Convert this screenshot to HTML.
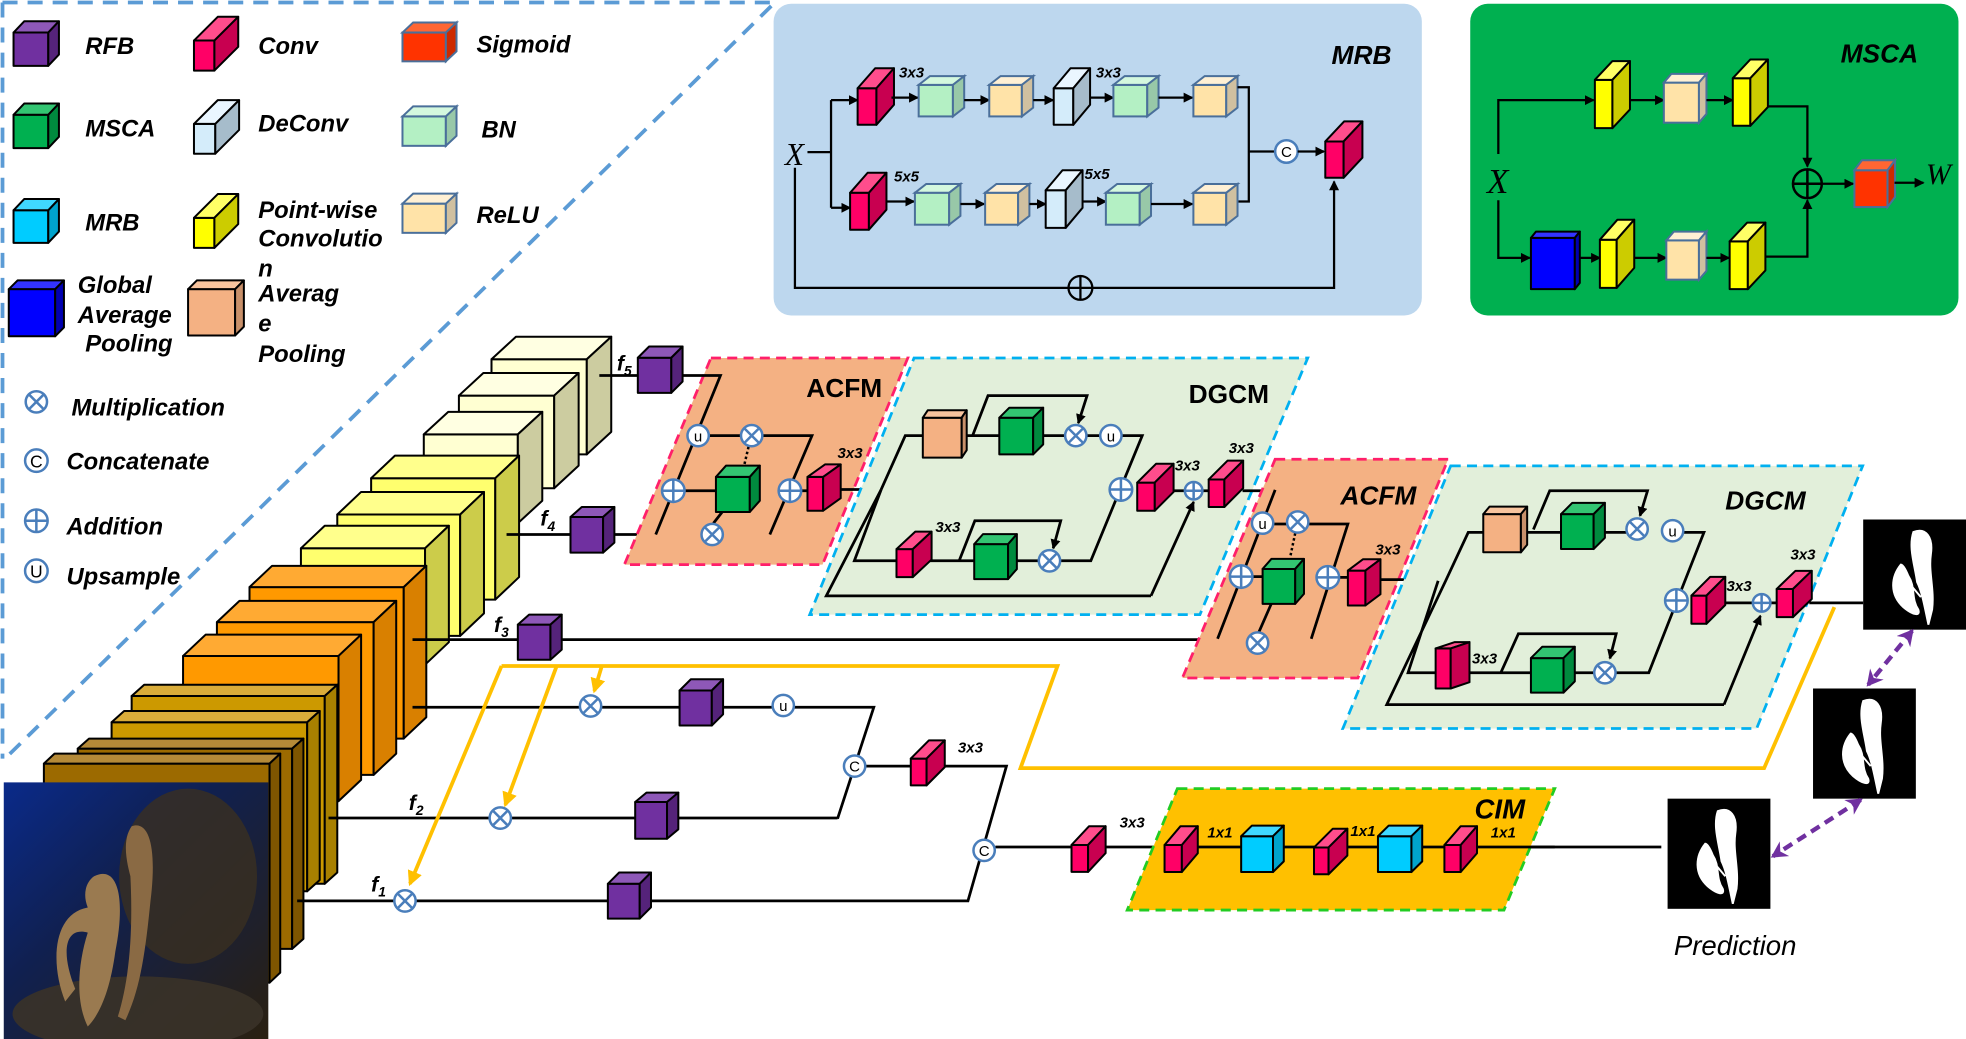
<!DOCTYPE html>
<html><head><meta charset="utf-8"><style>
html,body{margin:0;padding:0;background:#fff}
svg{display:block}
text{font-family:"Liberation Sans",sans-serif;font-weight:bold;font-style:italic;fill:#000}
.k rect,.k path{stroke:#000;stroke-width:1.6;stroke-linejoin:round}
.kb rect,.kb path{stroke:#4a6f9a;stroke-width:1.6}
.cv .f{fill:#ff0066}.cv .t{fill:#ff4d8c}.cv .s{fill:#c80050}
.rf .f{fill:#7030a0}.rf .t{fill:#8e58b8}.rf .s{fill:#55237a}
.gr .f{fill:#00b050}.gr .t{fill:#33c572}.gr .s{fill:#008a3e}
.cy .f{fill:#00ccff}.cy .t{fill:#40d8ff}.cy .s{fill:#00a3cc}
.bn .f{fill:#b4f0c4}.bn .t{fill:#d4f8de}.bn .s{fill:#98c8a8}
.rl .f{fill:#ffe3a8}.rl .t{fill:#fff0d4}.rl .s{fill:#d0c0a0}
.dc .f{fill:#d4ecfa}.dc .t{fill:#eaf6ff}.dc .s{fill:#a6bccb}
.yl .f{fill:#ffff00}.yl .t{fill:#ffff66}.yl .s{fill:#cccc00}
.bl .f{fill:#0000ff}.bl .t{fill:#3333ff}.bl .s{fill:#0000b0}
.sg .f{fill:#ff3300}.sg .t{fill:#ff6633}.sg .s{fill:#cc2a00}
.ap .f{fill:#f4b183}.ap .t{fill:#f8c49e}.ap .s{fill:#c8906a}
.y1 .f{fill:#ffffd2}.y1 .t{fill:#ffffe2}.y1 .s{fill:#cccca0}
.y2 .f{fill:#ffff6e}.y2 .t{fill:#ffff8c}.y2 .s{fill:#cccc4a}
.o1 .f{fill:#ff9900}.o1 .t{fill:#ffaa33}.o1 .s{fill:#d98000}
.b1 .f{fill:#cc9900}.b1 .t{fill:#d9ac3a}.b1 .s{fill:#a88000}
.b2 .f{fill:#9c6a00}.b2 .t{fill:#b58a38}.b2 .s{fill:#7e5500}
.ln{stroke:#000;stroke-width:2.2;fill:none}
.lt{stroke:#000;stroke-width:1.8;fill:none}
.or{stroke:#ffc000;stroke-width:3;fill:none}
.cir{fill:#fff;stroke:#4a7ebb;stroke-width:2}
.cl{stroke:#4a7ebb;stroke-width:2}
.lab{font-size:19px}
.sm{font-size:12px}
</style></head><body>
<svg width="1966" height="1039" viewBox="0 0 1568 830" preserveAspectRatio="none" xmlns="http://www.w3.org/2000/svg">
<defs>
<marker id="a" markerWidth="8" markerHeight="8" refX="7" refY="4" orient="auto" markerUnits="userSpaceOnUse"><path d="M0,0L8,4L0,8z" fill="#000"/></marker>
<marker id="ao" markerWidth="12" markerHeight="12" refX="10" refY="6" orient="auto" markerUnits="userSpaceOnUse"><path d="M0,0L12,6L0,12z" fill="#ffc000"/></marker>
<marker id="ap" markerWidth="14" markerHeight="14" refX="11" refY="7" orient="auto-start-reverse" markerUnits="userSpaceOnUse"><path d="M0,0L13,7L0,14L4,7z" fill="#7030a0"/></marker>
<g id="mul"><circle r="8.5" class="cir"/><path d="M-6,-6L6,6M6,-6L-6,6" class="cl"/></g>
<g id="add"><circle r="9" class="cir" fill="#f4f8ff"/><path d="M-9,0H9M0,-9V9" class="cl"/></g>
<g id="adds"><circle r="7" class="cir"/><path d="M-7,0H7M0,-7V7" class="cl"/></g>
<g id="ring"><circle r="8.5" class="cir"/></g>
<g id="sh"><rect width="82" height="88" fill="#000"/><path d="M40,10 C50,6 56,14 54,28 C52,42 57,56 55,72 L52,84 C49,70 47,58 43,50 C41,36 36,22 40,10Z M30,36 C22,46 21,60 32,70 C39,76 46,78 44,72 C38,63 42,54 36,45 C34,40 32,36 30,36Z M36,50 L46,62" fill="#fff" stroke="#fff" stroke-width="1.5"/></g>
<linearGradient id="sea" x1="0" y1="0" x2="1" y2="1"><stop offset="0" stop-color="#0a2a8a"/><stop offset="0.4" stop-color="#102050"/><stop offset="1" stop-color="#2a2010"/></linearGradient>
</defs>

<!-- legend dashed border -->
<path d="M2,2H618L4,606M2,2V606" fill="none" stroke="#5b9bd5" stroke-width="3" stroke-dasharray="12,8"/>

<!-- legend cubes -->
<g class="k rf"><rect class="f" x="10.8" y="26" width="27.7" height="26.6"/><path class="t" d="M10.8,26 l8.5,-9 h27.7 l-8.5,9z"/><path class="s" d="M38.5,26 l8.5,-9 v26.6 l-8.5,9z"/></g>
<g class="k cv"><rect class="f" x="154.7" y="32.4" width="16.3" height="24"/><path class="t" d="M154.7,32.4 l19,-19 h16.3 l-19,19z"/><path class="s" d="M171,32.4 l19,-19 v24 l-19,19z"/></g>
<g class="kb sg"><rect class="f" x="321" y="26" width="34.6" height="23"/><path class="t" d="M321,26 l8.5,-8 h34.6 l-8.5,8z"/><path class="s" d="M355.6,26 l8.5,-8 v23 l-8.5,8z"/></g>
<g class="k gr"><rect class="f" x="10.8" y="91.7" width="27.7" height="26.6"/><path class="t" d="M10.8,91.7 l8.5,-9 h27.7 l-8.5,9z"/><path class="s" d="M38.5,91.7 l8.5,-9 v26.6 l-8.5,9z"/></g>
<g class="k dc"><rect class="f" x="154.7" y="99" width="17" height="23.8"/><path class="t" d="M154.7,99 l19,-19 h17 l-19,19z"/><path class="s" d="M171.7,99 l19,-19 v23.8 l-19,19z"/></g>
<g class="kb bn"><rect class="f" x="321" y="93" width="34.6" height="23.5"/><path class="t" d="M321,93 l8.5,-8 h34.6 l-8.5,8z"/><path class="s" d="M355.6,93 l8.5,-8 v23.5 l-8.5,8z"/></g>
<g class="k cy"><rect class="f" x="10.8" y="168" width="27.7" height="26"/><path class="t" d="M10.8,168 l8.5,-9 h27.7 l-8.5,9z"/><path class="s" d="M38.5,168 l8.5,-9 v26 l-8.5,9z"/></g>
<g class="k yl"><rect class="f" x="154.7" y="174" width="16.3" height="24"/><path class="t" d="M154.7,174 l19,-19 h16.3 l-19,19z"/><path class="s" d="M171,174 l19,-19 v24 l-19,19z"/></g>
<g class="kb rl"><rect class="f" x="321" y="162.7" width="34.6" height="23.3"/><path class="t" d="M321,162.7 l8.5,-8 h34.6 l-8.5,8z"/><path class="s" d="M355.6,162.7 l8.5,-8 v23.3 l-8.5,8z"/></g>
<g class="k bl"><rect class="f" x="7" y="231" width="37" height="37.6"/><path class="t" d="M7,231 l7,-7 h37 l-7,7z"/><path class="s" d="M44,231 l7,-7 v37.6 l-7,7z"/></g>
<g class="k ap"><rect class="f" x="150" y="231" width="37.5" height="37"/><path class="t" d="M150,231 l7,-7 h37.5 l-7,7z"/><path class="s" d="M187.5,231 l7,-7 v37 l-7,7z"/></g>

<text class="lab" x="68" y="43">RFB</text>
<text class="lab" x="206" y="43">Conv</text>
<text class="lab" x="380" y="42">Sigmoid</text>
<text class="lab" x="68" y="109">MSCA</text>
<text class="lab" x="206" y="105">DeConv</text>
<text class="lab" x="384" y="110">BN</text>
<text class="lab" x="68" y="184">MRB</text>
<text class="lab" x="206" y="174">Point-wise</text>
<text class="lab" x="206" y="197">Convolutio</text>
<text class="lab" x="206" y="221">n</text>
<text class="lab" x="380" y="178">ReLU</text>
<text class="lab" x="62" y="234">Global</text>
<text class="lab" x="62" y="258">Average</text>
<text class="lab" x="68" y="281">Pooling</text>
<text class="lab" x="206" y="241">Averag</text>
<text class="lab" x="206" y="265">e</text>
<text class="lab" x="206" y="289">Pooling</text>

<use href="#mul" x="29" y="321"/>
<g><circle cx="29" cy="368" r="9" class="cir"/><text x="29" y="373.5" text-anchor="middle" style="font-size:14px;font-weight:normal;font-style:normal">C</text></g>
<use href="#add" x="29" y="416"/>
<g><circle cx="29" cy="456" r="9" class="cir"/><text x="29" y="461.5" text-anchor="middle" style="font-size:14px;font-weight:normal;font-style:normal">U</text></g>
<text class="lab" x="57" y="332">Multiplication</text>
<text class="lab" x="53" y="375">Concatenate</text>
<text class="lab" x="53" y="427">Addition</text>
<text class="lab" x="53" y="467">Upsample</text>

<!-- MRB box -->
<rect x="617" y="3" width="517" height="249" rx="14" fill="#bdd7ee"/>
<text x="1062" y="51" style="font-size:21px">MRB</text>
<text x="626" y="132" style="font-family:'Liberation Serif',serif;font-weight:normal;font-size:25px">X</text>
<path class="lt" d="M644,121.5H662.8M662.8,80V166"/>
<path class="lt" d="M662.8,80H684" marker-end="url(#a)"/>
<path class="lt" d="M662.8,166H678" marker-end="url(#a)"/>
<g class="k cv"><rect class="f" x="684" y="70.5" width="15" height="29.2"/><path class="t" d="M684,70.5 l14,-16 h15 l-14,16z"/><path class="s" d="M699,70.5 l14,-16 v29.2 l-14,16z"/></g>
<text class="sm" x="717" y="62">3x3</text>
<path class="lt" d="M711,78H732" marker-end="url(#a)"/>
<g class="kb bn"><rect class="f" x="732.7" y="67.8" width="27.3" height="25.2"/><path class="t" d="M732.7,67.8 l9,-7 h27.3 l-9,7z"/><path class="s" d="M760,67.8 l9,-7 v25.2 l-9,7z"/></g>
<path class="lt" d="M769,80H789" marker-end="url(#a)"/>
<g class="kb rl"><rect class="f" x="789" y="67.8" width="26" height="25.2"/><path class="t" d="M789,67.8 l9,-7 h26 l-9,7z"/><path class="s" d="M815,67.8 l9,-7 v25.2 l-9,7z"/></g>
<path class="lt" d="M824,80H840" marker-end="url(#a)"/>
<g class="k dc"><rect class="f" x="840.4" y="70.5" width="15.6" height="29.2"/><path class="t" d="M840.4,70.5 l13.4,-16 h15.6 l-13.4,16z"/><path class="s" d="M856,70.5 l13.4,-16 v29.2 l-13.4,16z"/></g>
<text class="sm" x="874" y="62">3x3</text>
<path class="lt" d="M869,78H888" marker-end="url(#a)"/>
<g class="kb bn"><rect class="f" x="888" y="67.8" width="27" height="25.2"/><path class="t" d="M888,67.8 l9,-7 h27 l-9,7z"/><path class="s" d="M915,67.8 l9,-7 v25.2 l-9,7z"/></g>
<path class="lt" d="M924,78H951" marker-end="url(#a)"/>
<g class="kb rl"><rect class="f" x="951.8" y="67.8" width="26.2" height="25.2"/><path class="t" d="M951.8,67.8 l9,-7 h26.2 l-9,7z"/><path class="s" d="M978,67.8 l9,-7 v25.2 l-9,7z"/></g>
<path class="lt" d="M987,69.7H996V161H987M996,121H1017"/>
<g class="k cv"><rect class="f" x="678" y="154" width="15" height="29.5"/><path class="t" d="M678,154 l14,-16 h15 l-14,16z"/><path class="s" d="M693,154 l14,-16 v29.5 l-14,16z"/></g>
<text class="sm" x="713" y="145">5x5</text>
<path class="lt" d="M707,161H729" marker-end="url(#a)"/>
<g class="kb bn"><rect class="f" x="729.7" y="154" width="27.3" height="25.5"/><path class="t" d="M729.7,154 l9,-7 h27.3 l-9,7z"/><path class="s" d="M757,154 l9,-7 v25.5 l-9,7z"/></g>
<path class="lt" d="M766,163H785" marker-end="url(#a)"/>
<g class="kb rl"><rect class="f" x="785.7" y="154" width="26.3" height="25.5"/><path class="t" d="M785.7,154 l9,-7 h26.3 l-9,7z"/><path class="s" d="M812,154 l9,-7 v25.5 l-9,7z"/></g>
<path class="lt" d="M821,163H834" marker-end="url(#a)"/>
<g class="k dc"><rect class="f" x="834" y="152" width="16" height="30"/><path class="t" d="M834,152 l13.4,-16 h16 l-13.4,16z"/><path class="s" d="M850,152 l13.4,-16 v30 l-13.4,16z"/></g>
<text class="sm" x="865" y="143">5x5</text>
<path class="lt" d="M863,161H882" marker-end="url(#a)"/>
<g class="kb bn"><rect class="f" x="882" y="154" width="27" height="25.5"/><path class="t" d="M882,154 l9,-7 h27 l-9,7z"/><path class="s" d="M909,154 l9,-7 v25.5 l-9,7z"/></g>
<path class="lt" d="M918,163H951" marker-end="url(#a)"/>
<g class="kb rl"><rect class="f" x="951.8" y="154" width="26.2" height="25.5"/><path class="t" d="M951.8,154 l9,-7 h26.2 l-9,7z"/><path class="s" d="M978,154 l9,-7 v25.5 l-9,7z"/></g>
<circle cx="1026" cy="121" r="9" class="cir"/><text x="1026" y="125.5" text-anchor="middle" style="font-size:12px;font-style:normal;font-weight:normal">C</text>
<path class="lt" d="M1035,121H1056" marker-end="url(#a)"/>
<g class="k cv"><rect class="f" x="1057" y="113" width="14.6" height="29"/><path class="t" d="M1057,113 l15,-16 h14.6 l-15,16z"/><path class="s" d="M1071.6,113 l15,-16 v29 l-15,16z"/></g>
<path class="lt" d="M634,134V230H852.7"/>
<circle cx="861.7" cy="230" r="9.5" fill="none" stroke="#000" stroke-width="1.8"/><path d="M852.2,230H871.2M861.7,220.5V239.5" stroke="#000" stroke-width="1.8"/>
<path class="lt" d="M871.2,230H1064V145" marker-end="url(#a)"/>

<!-- MSCA box -->
<rect x="1172.6" y="3" width="389.4" height="249" rx="14" fill="#00b050"/>
<text x="1468" y="50" style="font-size:21px">MSCA</text>
<text x="1186" y="154" style="font-family:'Liberation Serif',serif;font-weight:normal;font-size:28px">X</text>
<text x="1536" y="147" style="font-family:'Liberation Serif',serif;font-weight:normal;font-size:24px">W</text>
<path class="lt" d="M1195,123V80H1271" marker-end="url(#a)"/>
<path class="lt" d="M1195,160V206H1220" marker-end="url(#a)"/>
<g class="k yl"><rect class="f" x="1272" y="63.8" width="14" height="38.6"/><path class="t" d="M1272,63.8 l14,-15 h14 l-14,15z"/><path class="s" d="M1286,63.8 l14,-15 v38.6 l-14,15z"/></g>
<path class="lt" d="M1300,80H1327" marker-end="url(#a)"/>
<g class="kb rl"><rect class="f" x="1327" y="66" width="28" height="32"/><path class="t" d="M1327,66 l6,-7 h28 l-6,7z"/><path class="s" d="M1355,66 l6,-7 v32 l-6,7z"/></g>
<path class="lt" d="M1361,80H1382" marker-end="url(#a)"/>
<g class="k yl"><rect class="f" x="1382" y="62.5" width="14" height="38"/><path class="t" d="M1382,62.5 l14,-15 h14 l-14,15z"/><path class="s" d="M1396,62.5 l14,-15 v38 l-14,15z"/></g>
<path class="lt" d="M1410,85H1441.5V133" marker-end="url(#a)"/>
<g class="k bl"><rect class="f" x="1221" y="190" width="35" height="41"/><path class="t" d="M1221,190 l4,-5 h35 l-4,5z"/><path class="s" d="M1256,190 l4,-5 v41 l-4,5z"/></g>
<path class="lt" d="M1260,206H1276" marker-end="url(#a)"/>
<g class="k yl"><rect class="f" x="1276" y="191.5" width="13.4" height="38.5"/><path class="t" d="M1276,191.5 l14,-16 h13.4 l-14,16z"/><path class="s" d="M1289.4,191.5 l14,-16 v38.5 l-14,16z"/></g>
<path class="lt" d="M1303,206H1329" marker-end="url(#a)"/>
<g class="kb rl"><rect class="f" x="1329" y="192" width="26" height="31.4"/><path class="t" d="M1329,192 l6,-7 h26 l-6,7z"/><path class="s" d="M1355,192 l6,-7 v31.4 l-6,7z"/></g>
<path class="lt" d="M1361,206H1379" marker-end="url(#a)"/>
<g class="k yl"><rect class="f" x="1379.5" y="192.8" width="14.5" height="38.2"/><path class="t" d="M1379.5,192.8 l14,-15 h14.5 l-14,15z"/><path class="s" d="M1394,192.8 l14,-15 v38.2 l-14,15z"/></g>
<path class="lt" d="M1408,205H1441.5V160" marker-end="url(#a)"/>
<circle cx="1441.5" cy="146.8" r="11.5" fill="none" stroke="#000" stroke-width="2"/><path d="M1430,146.8H1453M1441.5,135.3V158.3" stroke="#000" stroke-width="2"/>
<path class="lt" d="M1453,146.8H1478" marker-end="url(#a)"/>
<g class="kb sg"><rect class="f" x="1479" y="136" width="26.4" height="29.4"/><path class="t" d="M1479,136 l6,-8 h26.4 l-6,8z"/><path class="s" d="M1505.4,136 l6,-8 v29.4 l-6,8z"/></g>
<path class="lt" d="M1511,146H1534" marker-end="url(#a)"/>

<!-- encoder slabs -->
<g class="k y1"><rect class="f" x="392" y="287" width="76" height="76"/><path class="t" d="M392,287 l19.5,-18 h76 l-19.5,18z"/><path class="s" d="M468,287 l19.5,-18 v76 l-19.5,18z"/></g>
<g class="k y1"><rect class="f" x="366" y="316" width="76" height="74"/><path class="t" d="M366,316 l19.5,-18 h76 l-19.5,18z"/><path class="s" d="M442,316 l19.5,-18 v74 l-19.5,18z"/></g>
<g class="k y1"><rect class="f" x="338" y="347" width="75" height="71"/><path class="t" d="M338,347 l19.5,-18 h75 l-19.5,18z"/><path class="s" d="M413,347 l19.5,-18 v71 l-19.5,18z"/></g>
<g class="k y2"><rect class="f" x="296" y="382" width="99" height="97"/><path class="t" d="M296,382 l19,-18 h99 l-19,18z"/><path class="s" d="M395,382 l19,-18 v97 l-19,18z"/></g>
<g class="k y2"><rect class="f" x="269" y="411" width="98" height="97"/><path class="t" d="M269,411 l19,-18 h98 l-19,18z"/><path class="s" d="M367,411 l19,-18 v97 l-19,18z"/></g>
<g class="k y2"><rect class="f" x="240" y="438" width="99" height="93"/><path class="t" d="M240,438 l19,-18 h99 l-19,18z"/><path class="s" d="M339,438 l19,-18 v93 l-19,18z"/></g>
<g class="k o1"><rect class="f" x="199" y="469" width="123" height="121"/><path class="t" d="M199,469 l18,-17 h123 l-18,17z"/><path class="s" d="M322,469 l18,-17 v121 l-18,17z"/></g>
<g class="k o1"><rect class="f" x="173" y="497" width="125" height="122"/><path class="t" d="M173,497 l18,-17 h125 l-18,17z"/><path class="s" d="M298,497 l18,-17 v122 l-18,17z"/></g>
<g class="k o1"><rect class="f" x="146" y="524" width="124" height="116"/><path class="t" d="M146,524 l18,-17 h124 l-18,17z"/><path class="s" d="M270,524 l18,-17 v116 l-18,17z"/></g>
<g class="k b1"><rect class="f" x="105" y="556" width="154" height="150"/><path class="t" d="M105,556 l10,-9 h154 l-10,9z"/><path class="s" d="M259,556 l10,-9 v150 l-10,9z"/></g>
<g class="k b1"><rect class="f" x="89" y="577" width="156" height="135"/><path class="t" d="M89,577 l10,-9 h156 l-10,9z"/><path class="s" d="M245,577 l10,-9 v135 l-10,9z"/></g>
<g class="k b2"><rect class="f" x="62" y="598" width="171" height="160"/><path class="t" d="M62,598 l9,-8 h171 l-9,8z"/><path class="s" d="M233,598 l9,-8 v160 l-9,8z"/></g>
<g class="k b2"><rect class="f" x="35" y="610" width="180" height="175"/><path class="t" d="M35,610 l8.5,-8 h180 l-8.5,8z"/><path class="s" d="M215,610 l8.5,-8 v175 l-8.5,8z"/></g>
<!-- photo -->
<rect x="3" y="625" width="211" height="205" fill="url(#sea)"/>
<ellipse cx="150" cy="700" rx="55" ry="70" fill="#3a3020" opacity="0.8"/>
<ellipse cx="110" cy="810" rx="100" ry="30" fill="#3a3228" opacity="0.9"/>
<path d="M75,700 C95,690 100,720 92,760 C88,790 80,810 70,820 C60,800 62,770 70,745 C52,740 48,760 60,790 L52,800 C40,770 42,730 70,725 C66,715 68,705 75,700Z" fill="#9a7a50"/>
<path d="M105,660 C120,655 125,680 120,720 C116,760 112,790 100,815 L94,812 C104,780 106,740 104,700 C100,685 98,670 105,660Z" fill="#8a6a44"/>

<!-- encoder connectors -->
<path class="ln" d="M478,300H509"/>
<text x="492" y="296" style="font-size:17px">f<tspan dy="4" style="font-size:11px">5</tspan></text>
<g class="k rf"><rect class="f" x="508.7" y="285.8" width="26.7" height="28"/><path class="t" d="M508.7,285.8 l9,-9 h26.7 l-9,9z"/><path class="s" d="M535.4,285.8 l9,-9 v28 l-9,9z"/></g>
<path class="ln" d="M404,427H455M490,427H614"/>
<text x="431" y="420" style="font-size:17px">f<tspan dy="4" style="font-size:11px">4</tspan></text>
<g class="k rf"><rect class="f" x="455" y="413" width="26" height="28.5"/><path class="t" d="M455,413 l9,-8 h26 l-9,8z"/><path class="s" d="M481,413 l9,-8 v28.5 l-9,8z"/></g>
<path class="ln" d="M329,511H413M448,511H1046"/>
<text x="394" y="505" style="font-size:17px">f<tspan dy="4" style="font-size:11px">3</tspan></text>
<g class="k rf"><rect class="f" x="413" y="499" width="26" height="28"/><path class="t" d="M413,499 l9,-8 h26 l-9,8z"/><path class="s" d="M439,499 l9,-8 v28 l-9,8z"/></g>

<!-- low-level path -->
<path class="ln" d="M329,565H696.9L668,654M262,653.5H668M237,719.7H772L802.7,612H753M681.6,612H726"/>
<text x="326" y="647" style="font-size:17px">f<tspan dy="4" style="font-size:11px">2</tspan></text>
<text x="296" y="712" style="font-size:17px">f<tspan dy="4" style="font-size:11px">1</tspan></text>
<use href="#mul" x="471" y="564"/>
<use href="#mul" x="399" y="653.5"/>
<use href="#mul" x="323" y="719.7"/>
<g class="k rf"><rect class="f" x="542" y="551.6" width="25.7" height="28"/><path class="t" d="M542,551.6 l9,-9 h25.7 l-9,9z"/><path class="s" d="M567.7,551.6 l9,-9 v28 l-9,9z"/></g>
<g class="k rf"><rect class="f" x="506.6" y="640.7" width="25.4" height="29.3"/><path class="t" d="M506.6,640.7 l9,-7.5 h25.4 l-9,7.5z"/><path class="s" d="M532,640.7 l9,-7.5 v29.3 l-9,7.5z"/></g>
<g class="k rf"><rect class="f" x="484.8" y="706" width="25.4" height="27.8"/><path class="t" d="M484.8,706 l9,-9 h25.4 l-9,9z"/><path class="s" d="M510.2,706 l9,-9 v27.8 l-9,9z"/></g>
<circle cx="624.7" cy="563.6" r="8.5" class="cir"/><text x="624.7" y="568" text-anchor="middle" style="font-size:12px;font-style:normal;font-weight:normal">u</text>
<circle cx="681.6" cy="612" r="8.5" class="cir"/><text x="681.6" y="616.5" text-anchor="middle" style="font-size:12px;font-style:normal;font-weight:normal">C</text>
<g class="k cv"><rect class="f" x="726.4" y="606" width="12.6" height="21.4"/><path class="t" d="M726.4,606 l14.5,-14.6 h12.6 l-14.5,14.6z"/><path class="s" d="M739,606 l14.5,-14.6 v21.4 l-14.5,14.6z"/></g>
<text class="sm" x="764" y="601">3x3</text>
<path class="ln" d="M793.9,676.6H855M868,676.6H1325"/>
<circle cx="784.9" cy="679.3" r="8.5" class="cir"/><text x="784.9" y="683.8" text-anchor="middle" style="font-size:12px;font-style:normal;font-weight:normal">C</text>
<g class="k cv"><rect class="f" x="854.6" y="675" width="13.2" height="21.5"/><path class="t" d="M854.6,675 l14,-15 h13.2 l-14,15z"/><path class="s" d="M867.8,675 l14,-15 v21.5 l-14,15z"/></g>
<text class="sm" x="893" y="661">3x3</text>

<!-- orange feedback -->
<path class="or" d="M400,532H843.4L813.9,613.6H1407L1463,485"/>
<path class="or" d="M400,532L327,706" marker-end="url(#ao)"/>
<path class="or" d="M444,532L403,643" marker-end="url(#ao)"/>
<path class="or" d="M480,532L474,552" marker-end="url(#ao)"/>

<!-- CIM -->
<path d="M939,630H1240L1199.5,727H899Z" fill="#ffc000" stroke="#22cc22" stroke-width="2.2" stroke-dasharray="8,5"/>
<text x="1176" y="654" style="font-size:22px">CIM</text>
<path class="ln" d="M930,676.6H1240"/>
<g class="k cv"><rect class="f" x="928.8" y="675" width="13.8" height="21.6"/><path class="t" d="M928.8,675 l12.7,-15 h13.8 l-12.7,15z"/><path class="s" d="M942.6,675 l12.7,-15 v21.6 l-12.7,15z"/></g>
<text class="sm" x="963" y="669">1x1</text>
<g class="k cy"><rect class="f" x="989.9" y="668" width="25.4" height="28.6"/><path class="t" d="M989.9,668 l8.6,-8.5 h25.4 l-8.6,8.5z"/><path class="s" d="M1015.3,668 l8.6,-8.5 v28.6 l-8.6,8.5z"/></g>
<g class="k cv"><rect class="f" x="1048" y="677" width="11.6" height="21.4"/><path class="t" d="M1048,677 l15,-15 h11.6 l-15,15z"/><path class="s" d="M1059.6,677 l15,-15 v21.4 l-15,15z"/></g>
<text class="sm" x="1077" y="668">1x1</text>
<g class="k cy"><rect class="f" x="1099" y="668" width="26.7" height="28.6"/><path class="t" d="M1099,668 l8.6,-8.5 h26.7 l-8.6,8.5z"/><path class="s" d="M1125.7,668 l8.6,-8.5 v28.6 l-8.6,8.5z"/></g>
<g class="k cv"><rect class="f" x="1152" y="675" width="13" height="21.6"/><path class="t" d="M1152,675 l13,-15 h13 l-13,15z"/><path class="s" d="M1165,675 l13,-15 v21.6 l-13,15z"/></g>
<text class="sm" x="1189" y="669">1x1</text>

<!-- ACFM1 -->
<path d="M567,286H724L656,451H498Z" fill="#f4b183" stroke="#ff1f6a" stroke-width="2.2" stroke-dasharray="8,5"/>
<text x="643" y="317" style="font-size:21px;font-style:normal">ACFM</text>
<path class="ln" d="M544,300H574.6L523,427M556.8,348H647.6L614,427M546,392H571M639,392H644M576,409L569,418M671,391H702.8"/>
<path d="M597,357L593,374" stroke="#000" stroke-width="2" stroke-dasharray="2,2"/>
<use href="#mul" x="599.5" y="348"/>
<circle cx="556.8" cy="348" r="8.5" class="cir"/><text x="556.8" y="352.5" text-anchor="middle" style="font-size:12px;font-style:normal;font-weight:normal">u</text>
<use href="#add" x="537" y="392"/>
<use href="#add" x="630" y="392"/>
<use href="#mul" x="568" y="427"/>
<g class="k gr"><rect class="f" x="571" y="381" width="27" height="28"/><path class="t" d="M571,381 l8,-9 h27 l-8,9z"/><path class="s" d="M598,381 l8,-9 v28 l-8,9z"/></g>
<g class="k cv"><rect class="f" x="644" y="381" width="12.5" height="27"/><path class="t" d="M644,381 l14,-10 h12.5 l-14,10z"/><path class="s" d="M656.5,381 l14,-10 v27 l-14,10z"/></g>
<text class="sm" x="668" y="366">3x3</text>

<!-- DGCM1 -->
<path d="M729,286H1043L957,491H645.8Z" fill="#e2efda" stroke="#00b0f0" stroke-width="2.2" stroke-dasharray="8,5"/>
<text x="948" y="322" style="font-size:21px;font-style:normal">DGCM</text>
<path class="ln" d="M702.8,391L722,348H736M767,348H797M824,348H849.5M866.5,348H877.5M894.5,348H911L870,448H845.5M828.5,448H804M777,448H728M715,448H681.4L702.8,391M702.8,391L659,476H918"/>
<path class="ln" d="M918,476L952,401" marker-end="url(#a)"/>
<path class="ln" d="M775.7,348L788,316H867L860,338" marker-end="url(#a)"/>
<path class="ln" d="M765,448L777.5,416H846L840,438" marker-end="url(#a)"/>
<path class="ln" d="M921,392H945M959,392H964M991,392H1017"/>
<g class="k ap"><rect class="f" x="736" y="333.7" width="31" height="31.9"/><path class="t" d="M736,333.7 l4,-6 h31 l-4,6z"/><path class="s" d="M767,333.7 l4,-6 v31.9 l-4,6z"/></g>
<g class="k gr"><rect class="f" x="797" y="333.7" width="27" height="29.3"/><path class="t" d="M797,333.7 l8,-8 h27 l-8,8z"/><path class="s" d="M824,333.7 l8,-8 v29.3 l-8,8z"/></g>
<use href="#mul" x="858" y="348"/>
<circle cx="886" cy="348" r="8.5" class="cir"/><text x="886" y="352.5" text-anchor="middle" style="font-size:12px;font-style:normal;font-weight:normal">u</text>
<use href="#add" x="894" y="391"/>
<g class="k cv"><rect class="f" x="907" y="385.5" width="14" height="22.5"/><path class="t" d="M907,385.5 l15,-15 h14 l-15,15z"/><path class="s" d="M921,385.5 l15,-15 v22.5 l-15,15z"/></g>
<text class="sm" x="937" y="376">3x3</text>
<use href="#adds" x="952" y="392"/>
<g class="k cv"><rect class="f" x="964" y="383" width="12.5" height="22"/><path class="t" d="M964,383 l15,-15 h12.5 l-15,15z"/><path class="s" d="M976.5,383 l15,-15 v22 l-15,15z"/></g>
<text class="sm" x="980" y="362">3x3</text>
<g class="k cv"><rect class="f" x="715" y="438.7" width="13" height="22.3"/><path class="t" d="M715,438.7 l15,-14 h13 l-15,14z"/><path class="s" d="M728,438.7 l15,-14 v22.3 l-15,14z"/></g>
<text class="sm" x="746" y="425">3x3</text>
<g class="k gr"><rect class="f" x="777" y="434.7" width="27" height="27.9"/><path class="t" d="M777,434.7 l7,-8 h27 l-7,8z"/><path class="s" d="M804,434.7 l7,-8 v27.9 l-7,8z"/></g>
<use href="#mul" x="837" y="448"/>

<!-- ACFM2 -->
<path d="M1017,366.9H1155L1083,541.6H943Z" fill="#f4b183" stroke="#ff1f6a" stroke-width="2.2" stroke-dasharray="8,5"/>
<text x="1069" y="403" style="font-size:21px">ACFM</text>
<path class="ln" d="M1017,391.3L971.1,510.3M1007,418.6H1075L1045.8,510.3M990,460.6H1007M1059,461.2H1075M1013.9,482.4L1004,505M1101,463H1153"/>
<path d="M1033,426L1029,445" stroke="#000" stroke-width="2" stroke-dasharray="2,2"/>
<circle cx="1007" cy="417.9" r="8.5" class="cir"/><text x="1007" y="422.4" text-anchor="middle" style="font-size:12px;font-style:normal;font-weight:normal">u</text>
<use href="#mul" x="1035" y="417"/>
<use href="#add" x="989.9" y="460.6"/>
<use href="#add" x="1059" y="461.2"/>
<use href="#mul" x="1003" y="513.7"/>
<g class="k gr"><rect class="f" x="1007" y="454.5" width="26" height="27.9"/><path class="t" d="M1007,454.5 l7,-8 h26 l-7,8z"/><path class="s" d="M1033,454.5 l7,-8 v27.9 l-7,8z"/></g>
<g class="k cv"><rect class="f" x="1075" y="455.8" width="14" height="27.9"/><path class="t" d="M1075,455.8 l12,-9 h14 l-12,9z"/><path class="s" d="M1089,455.8 l12,-9 v27.9 l-12,9z"/></g>
<text class="sm" x="1097" y="443">3x3</text>

<!-- DGCM2 -->
<path d="M1157,372.2H1485.6L1401,582H1071Z" fill="#e2efda" stroke="#00b0f0" stroke-width="2.2" stroke-dasharray="8,5"/>
<text x="1376" y="407" style="font-size:21px">DGCM</text>
<path class="ln" d="M1153,464L1171,425.3H1183M1213,425.3H1245M1271,425.3H1297.2M1342.5,425.3H1359L1315,537.4H1288.5M1271.5,537.4H1247M1221,537.4H1157M1145,537.4H1123L1147,464M1153,464L1106,562.9H1375M1349,479.7H1349M1374,481.6H1398M1412,481.6H1417M1443,481.6H1486"/>
<path class="ln" d="M1375,562.9L1404,492" marker-end="url(#a)"/>
<path class="ln" d="M1223,423L1236,392H1314L1308,412" marker-end="url(#a)"/>
<path class="ln" d="M1197,537.4L1211,506.3H1289L1284,526" marker-end="url(#a)"/>
<g class="k ap"><rect class="f" x="1183" y="410.7" width="30" height="30.5"/><path class="t" d="M1183,410.7 l5,-6 h30 l-5,6z"/><path class="s" d="M1213,410.7 l5,-6 v30.5 l-5,6z"/></g>
<g class="k gr"><rect class="f" x="1245" y="410.7" width="26" height="27.9"/><path class="t" d="M1245,410.7 l9,-9 h26 l-9,9z"/><path class="s" d="M1271,410.7 l9,-9 v27.9 l-9,9z"/></g>
<use href="#mul" x="1305.7" y="422.6"/>
<circle cx="1334" cy="424" r="8.5" class="cir"/><text x="1334" y="428.5" text-anchor="middle" style="font-size:12px;font-style:normal;font-weight:normal">u</text>
<use href="#add" x="1337" y="479.7"/>
<g class="k cv"><rect class="f" x="1349" y="475.8" width="12" height="22.5"/><path class="t" d="M1349,475.8 l15,-15 h12 l-15,15z"/><path class="s" d="M1361,475.8 l15,-15 v22.5 l-15,15z"/></g>
<text class="sm" x="1377" y="472">3x3</text>
<use href="#adds" x="1405" y="481.6"/>
<g class="k cv"><rect class="f" x="1417" y="470.5" width="13" height="22.5"/><path class="t" d="M1417,470.5 l15,-14.5 h13 l-15,14.5z"/><path class="s" d="M1430,470.5 l15,-14.5 v22.5 l-15,14.5z"/></g>
<text class="sm" x="1428" y="447">3x3</text>
<g class="k cv"><rect class="f" x="1145" y="518" width="12" height="32"/><path class="t" d="M1145,518 l15,-5 h12 l-15,5z"/><path class="s" d="M1157,518 l15,-5 v32 l-15,5z"/></g>
<text class="sm" x="1174" y="530">3x3</text>
<g class="k gr"><rect class="f" x="1221" y="525.7" width="26" height="27.6"/><path class="t" d="M1221,525.7 l9,-9 h26 l-9,9z"/><path class="s" d="M1247,525.7 l9,-9 v27.6 l-9,9z"/></g>
<use href="#mul" x="1280" y="537.4"/>

<!-- masks & prediction -->
<use href="#sh" x="1486" y="415"/>
<use href="#sh" x="1446" y="550"/>
<use href="#sh" x="1330" y="638"/>
<path d="M1525,504L1490,547" stroke="#7030a0" stroke-width="3.5" stroke-dasharray="8,5" fill="none" marker-start="url(#ap)" marker-end="url(#ap)"/>
<path d="M1484,639L1414,684" stroke="#7030a0" stroke-width="3.5" stroke-dasharray="8,5" fill="none" marker-start="url(#ap)" marker-end="url(#ap)"/>
<text x="1335" y="763" style="font-size:22px;font-weight:normal">Prediction</text>
</svg>
</body></html>
